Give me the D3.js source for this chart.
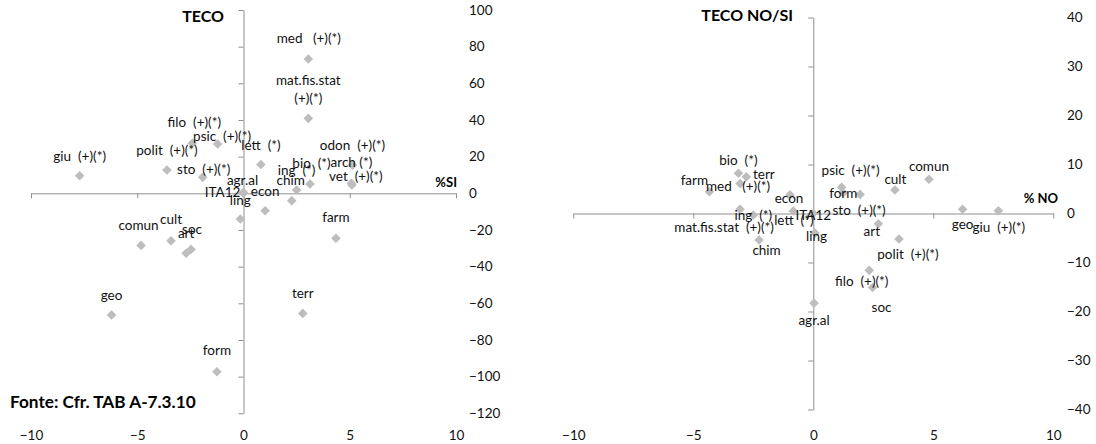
<!DOCTYPE html>
<html>
<head>
<meta charset="utf-8">
<script src="https://cdn.jsdelivr.net/npm/d3@7"></script>
<style>
  html, body { margin: 0; padding: 0; background: #fff; }
  svg { display: block; font-family: Lato, "Open Sans", sans-serif; }
  .lbl { font-size: 13.5px; fill: #111; white-space: pre; }
  .tick text { font-size: 13.5px; fill: #111; font-family: Lato, sans-serif; }
</style>
</head>
<body>
<svg id="chart" width="1096" height="444"></svg>
<script>
// ---------------- DATA ----------------
// Left chart: TECO vs %SI
const leftNames = ["giu","polit","sto","filo","psic","lett","agr.al","ITA12","ling","econ","ing","chim","bio","med","mat.fis.stat","odon","arch","vet","farm","terr","form","geo","comun","cult","soc","art"];
const leftLabels = ["giu  (+)(*)","polit  (+)(*)","sto  (+)(*)","filo  (+)(*)","psic  (+)(*)","lett  (*)","agr.al","ITA12","ling","econ","ing  (*)","chim","bio  (*)","med   (+)(*)","mat.fis.stat\n(+)(*)","odon  (+)(*)","arch (*)","vet  (+)(*)","farm","terr","form","geo","comun","cult","soc","art"];
const leftSI   = [-7.71,-3.6,-1.92,-2.41,-1.22,0.82,0.0,0.0,-0.15,1.02,2.5,2.27,3.13,3.05,3.05,5.13,5.08,5.1,4.35,2.79,-1.25,-6.21,-4.82,-3.41,-2.47,-2.70];
const leftTECO = [9.6,12.7,8.7,27.3,26.9,15.7,0.5,0,-14,-9.5,1.8,-4.0,5.1,73.3,40.9,15.4,5.5,4.5,-24.5,-65.5,-97.3,-66.4,-28.4,-25.9,-30.6,-32.7];

// Right chart: TECO NO/SI vs %NO
const rightNames = ["bio","terr","farm","med","econ","form","psic","cult","comun","ing","mat.fis.stat","lett","ITA12","sto","chim","ling","art","geo","giu","polit","filo","soc","agr.al"];
const rightLabels = ["bio  (*)","terr","farm","med   (+)(*)","econ","form","psic  (+)(*)","cult","comun","ing  (*)","mat.fis.stat  (+)(*)","lett  (*)","ITA12","sto  (+)(*)","chim","ling","art","geo","giu  (+)(*)","polit  (+)(*)","filo  (+)(*)","soc","agr.al"];
const rightNO   = [-3.12,-2.79,-4.33,-3.05,-0.97,1.25,1.18,3.4,4.82,-2.5,-3.05,-0.83,0,1.95,-2.26,0.07,2.71,6.22,7.71,3.57,2.33,2.47,0.03];
const rightTECO = [8.2,7.5,4.45,6.1,3.8,4.2,5.35,4.8,7.0,-0.3,0.86,0.5,0,3.9,-5.4,-4.0,-2.1,0.86,0.57,-5.2,-11.6,-15.1,-18.3];

const xTicks = [-10,-5,0,5,10];
const leftYTicks = [-120,-100,-80,-60,-40,-20,0,20,40,60,80,100];
const rightYTicks = [-40,-30,-20,-10,0,10,20,30,40];

// ---------------- LAYOUT (label offsets, px) ----------------
const leftLabelOffsets = {
  "giu":[0,-19],"polit":[0,-20],"sto":[1,-8.5],"filo":[2,-20.5],"psic":[4.5,-7.5],"lett":[0,-19.5],
  "agr.al":[-1,-12.5],"ITA12":[-21,-1.5],"ling":[0,-19],"econ":[0,-19.7],"ing":[0,-20],"chim":[-1,-20.5],
  "bio":[1.5,-21],"med":[0.5,-21],"mat.fis.stat":[0,-20],"odon":[0,-20],"arch":[0,-21],"vet":[4,-8.5],
  "farm":[0,-21],"terr":[0,-20],"form":[0,-21],"geo":[0,-20],"comun":[-2.5,-20.5],"cult":[0,-22],
  "soc":[1,-20],"art":[0,-20]
};
const rightLabelOffsets = {
  "bio":[0,-12.6],"terr":[17.5,-2],"farm":[-15,-11],"med":[-2,3],"econ":[-1,3.5],"form":[0,0.5],
  "psic":[9,-17],"cult":[0.5,-10.7],"comun":[0,-12.6],"ing":[0,0],"mat.fis.stat":[-16,18],"lett":[0.5,9],
  "ITA12":[0,1.5],"sto":[-1,16],"chim":[7.5,10],"ling":[1.5,3.5],"art":[-6.5,7.5],"geo":[0,15],
  "giu":[0.5,16.5],"polit":[9,15],"filo":[-7.5,11],"soc":[9,19.4],"agr.al":[0,16.7]
};

const svg = d3.select("#chart");
const AXIS = "#8f8f8f";
const MARK = "#bdbdbd";

function drawChart(cfg) {
  const g = svg.append("g");
  const x = d3.scaleLinear().domain([-10, 10]).range(cfg.xRange);
  const y = d3.scaleLinear().domain(cfg.yDomain).range(cfg.yRange);

  // horizontal crossing axis at y = 0
  const hx = g.append("g").attr("transform", `translate(0,${y(0)})`)
    .call(d3.axisBottom(x).tickValues(xTicks).tickSize(5).tickSizeOuter(0).tickFormat(""));
  // vertical crossing axis at x = 0
  const vy = g.append("g").attr("transform", `translate(${x(0)},0)`)
    .call(d3.axisLeft(y).tickValues(cfg.yTicks).tickSize(5).tickSizeOuter(0).tickFormat(""));
  [hx, vy].forEach(a => {
    a.selectAll("path,line").attr("stroke", AXIS).attr("stroke-width", 1);
  });

  // tick labels: bottom and right
  const bx = g.append("g").attr("transform", `translate(0,${cfg.xLabelY})`)
    .call(d3.axisBottom(x).tickValues(xTicks).tickSize(0).tickPadding(0).tickFormat(d3.format("d")));
  bx.select(".domain").remove();
  bx.selectAll("text").attr("dy", "0.35em").attr("y", 0);
  const ry = g.append("g").attr("transform", `translate(${cfg.yLabelX},0)`)
    .call(d3.axisRight(y).tickValues(cfg.yTicks).tickSize(0).tickPadding(0).tickFormat(d3.format("d")));
  ry.select(".domain").remove();
  ry.selectAll("text").attr("x", 0).attr("text-anchor", "start");

  // markers
  const sym = d3.symbol().type(d3.symbolSquare).size(46);
  const pts = cfg.names.map((n, i) => ({ n, lab: cfg.labels[i], xv: cfg.xs[i], yv: cfg.ys[i] }));
  g.append("g").selectAll("path").data(pts).join("path")
    .attr("d", sym)
    .attr("fill", MARK)
    .attr("transform", d => `translate(${x(d.xv)},${y(d.yv)}) rotate(45)`);

  // data labels
  const lg = g.append("g");
  pts.forEach(d => {
    const off = cfg.offsets[d.n] || [0, -20];
    const lines = d.lab.split("\n");
    const t = lg.append("text").attr("class", "lbl")
      .attr("text-anchor", "middle")
      .attr("xml:space", "preserve");
    lines.forEach((ln, i) => {
      t.append("tspan")
        .attr("x", x(d.xv) + off[0])
        .attr("y", y(d.yv) + off[1] - (lines.length - 1 - i) * 18.3)
        .attr("dy", "0.35em")
        .text(ln);
    });
  });

  // title
  g.append("text").attr("x", cfg.titleX).attr("y", cfg.titleY).attr("dy", "0.35em")
    .attr("text-anchor", "end").attr("font-weight", "bold").attr("font-size", "16px").attr("fill", "#000")
    .text(cfg.title);
  // axis title
  g.append("text").attr("x", cfg.axTitleX).attr("y", cfg.axTitleY).attr("dy", "0.35em")
    .attr("text-anchor", "end").attr("font-weight", "bold").attr("font-size", "13px").attr("fill", "#000")
    .text(cfg.axTitle);
}

drawChart({
  names: leftNames, labels: leftLabels, xs: leftSI, ys: leftTECO, offsets: leftLabelOffsets,
  xRange: [31, 456], yDomain: [-120, 100], yRange: [413.3, 10], yTicks: leftYTicks,
  xLabelY: 435, yLabelX: 469,
  title: "TECO", titleX: 224, titleY: 16,
  axTitle: "%SI", axTitleX: 457, axTitleY: 182
});
drawChart({
  names: rightNames, labels: rightLabels, xs: rightNO, ys: rightTECO, offsets: rightLabelOffsets,
  xRange: [573.3, 1053.3], yDomain: [-40, 40], yRange: [409.5, 17.5], yTicks: rightYTicks,
  xLabelY: 435, yLabelX: 1067,
  title: "TECO NO/SI", titleX: 793, titleY: 15.5,
  axTitle: "% NO", axTitleX: 1058, axTitleY: 198.5
});

svg.append("text").attr("x", 10).attr("y", 402).attr("dy", "0.35em")
  .attr("font-weight", "bold").attr("font-size", "17.2px").attr("fill", "#000")
  .text("Fonte: Cfr. TAB A-7.3.10");
</script>
</body>
</html>
